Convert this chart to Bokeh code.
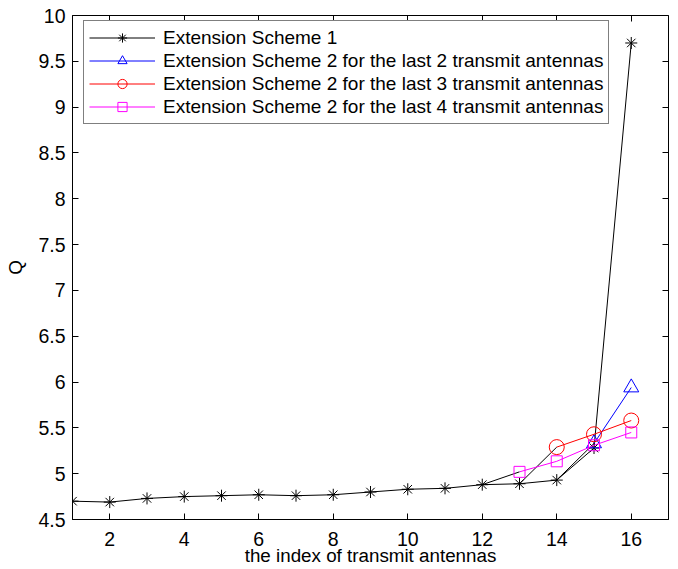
from bokeh.plotting import figure
from bokeh.models import Range1d, LinearAxis, FixedTicker, Legend, LegendItem, CustomJSTickFormatter
from bokeh.embed import file_html
from bokeh.resources import INLINE

# ---- data ----
antenna_index = list(range(1, 17))
scheme1 = [4.70, 4.69, 4.73, 4.75, 4.76, 4.77, 4.76, 4.77, 4.80, 4.83, 4.84, 4.88, 4.89, 4.93, 5.28, 9.70]

s2_last2_x = [15, 16]
s2_last2_y = [5.33, 5.94]
s2_last3_x = [14, 15, 16]
s2_last3_y = [5.29, 5.43, 5.58]
s2_last4_x = [13, 14, 15, 16]
s2_last4_y = [5.02, 5.135, 5.31, 5.45]

x_ticks = [2, 4, 6, 8, 10, 12, 14, 16]
y_ticks = [4.5, 5, 5.5, 6, 6.5, 7, 7.5, 8, 8.5, 9, 9.5, 10]

FONT = "Liberation Sans"

p = figure(width=678, height=569, output_backend="svg", toolbar_location=None,
           x_range=Range1d(1, 17), y_range=Range1d(4.5, 10))
p.min_border_left = 72
p.min_border_right = 10
p.min_border_top = 15
p.min_border_bottom = 50
p.xgrid.visible = False
p.ygrid.visible = False
p.outline_line_color = "black"
p.outline_line_width = 1
p.background_fill_color = "white"
p.border_fill_color = "white"

for ax, ticks in ((p.xaxis[0], x_ticks), (p.yaxis[0], y_ticks)):
    ax.ticker = FixedTicker(ticks=ticks)
    ax.major_tick_in = 6
    ax.major_tick_out = 0
    ax.minor_tick_in = 0
    ax.minor_tick_out = 0
    ax.axis_line_color = "black"
    ax.major_tick_line_color = "black"
    ax.major_label_text_font = FONT
    ax.major_label_text_font_size = "19.5px"
    ax.major_label_text_color = "black"
    ax.axis_label_text_font = FONT
    ax.axis_label_text_font_size = "18.8px"
    ax.axis_label_text_font_style = "normal"
    ax.axis_label_text_color = "black"

p.xaxis[0].axis_label = "the index of transmit antennas"
p.xaxis[0].major_label_standoff = 12
p.xaxis[0].axis_label_standoff = -4
p.yaxis[0].axis_label = "Q"
p.yaxis[0].major_label_standoff = 7
p.yaxis[0].axis_label_standoff = 9

# mirrored tick axes (top and right), no labels
blank = CustomJSTickFormatter(code="return '';")
top = LinearAxis(ticker=FixedTicker(ticks=x_ticks), major_tick_in=6, major_tick_out=0,
                 minor_tick_in=0, minor_tick_out=0, formatter=blank,
                 axis_line_color=None, major_label_standoff=0)
right = LinearAxis(ticker=FixedTicker(ticks=y_ticks), major_tick_in=6, major_tick_out=0,
                   minor_tick_in=0, minor_tick_out=0, formatter=blank,
                   axis_line_color=None, major_label_standoff=0)
p.add_layout(top, "above")
p.add_layout(right, "right")

# black connectors from Scheme 1 to the first point of each Scheme 2 curve
for xs, ys in ((s2_last2_x, s2_last2_y), (s2_last3_x, s2_last3_y), (s2_last4_x, s2_last4_y)):
    x0 = xs[0] - 1
    p.line([x0, xs[0]], [scheme1[antenna_index.index(x0)], ys[0]], line_color="black", line_width=1)

r1l = p.line(antenna_index, scheme1, line_color="black", line_width=1)
r1m = p.scatter(antenna_index, scheme1, marker="asterisk", size=12, line_color="black", line_width=1)

r2l = p.line(s2_last2_x, s2_last2_y, line_color="blue", line_width=1)
r2m = p.scatter(s2_last2_x, s2_last2_y, marker="triangle", size=15, line_color="blue",
                fill_color=None, line_width=1)

r3l = p.line(s2_last3_x, s2_last3_y, line_color="red", line_width=1)
r3m = p.scatter(s2_last3_x, s2_last3_y, marker="circle", size=15, line_color="red",
                fill_color=None, line_width=1)

r4l = p.line(s2_last4_x, s2_last4_y, line_color="magenta", line_width=1)
r4m = p.scatter(s2_last4_x, s2_last4_y, marker="square", size=11, line_color="magenta",
                fill_color=None, line_width=1)

legend = Legend(items=[
    LegendItem(label="Extension Scheme 1", renderers=[r1l, r1m]),
    LegendItem(label="Extension Scheme 2 for the last 2 transmit antennas", renderers=[r2l, r2m]),
    LegendItem(label="Extension Scheme 2 for the last 3 transmit antennas", renderers=[r3l, r3m]),
    LegendItem(label="Extension Scheme 2 for the last 4 transmit antennas", renderers=[r4l, r4m]),
], location=(11, 395))
legend.label_text_font = FONT
legend.label_text_font_size = "19px"
legend.label_text_color = "black"
legend.glyph_width = 66
legend.glyph_height = 23
legend.label_height = 23
legend.label_standoff = 8
legend.spacing = 0
legend.padding = 5
legend.margin = 0
legend.border_line_color = "black"
legend.border_line_width = 1
legend.background_fill_alpha = 1
p.add_layout(legend, "center")

open("out.html", "w").write(file_html(p, INLINE))
